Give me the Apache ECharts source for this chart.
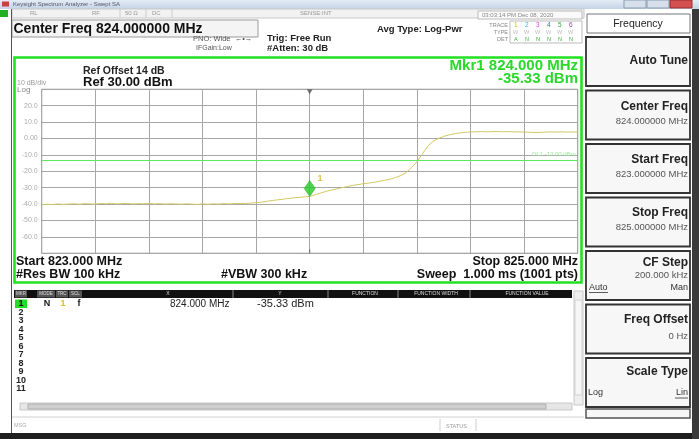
<!DOCTYPE html>
<html><head><meta charset="utf-8">
<script src="https://cdn.jsdelivr.net/npm/echarts@6/dist/echarts.min.js"></script>
<style>html,body{margin:0;padding:0;background:#fff}#c{width:699px;height:439px}</style>
</head><body><div id="c"></div>
<script>
// ---- data ----
const startFreq = 823.0;
const stopFreq = 825.0;
const stepFreq = 0.02;
const traceDbm = [
 -40.4,-40.1,-40.3,-39.9,-40.2,-40.0,-39.8,-40.1,-39.7,-39.9,
 -40.0,-39.6,-39.8,-39.5,-39.9,-39.7,-39.6,-39.9,-39.7,-39.8,
 -39.6,-39.9,-39.7,-40.0,-39.8,-39.9,-40.1,-39.8,-40.0,-40.2,
 -39.9,-40.1,-39.8,-40.0,-39.7,-39.9,-39.6,-39.7,-39.6,-39.4,
 -39.2,-38.8,-38.3,-37.8,-37.4,-37.0,-36.6,-36.2,-35.9,-35.6,
 -35.33,-34.4,-33.3,-32.3,-31.5,-30.8,-30.0,-29.3,-28.6,-28.1,
 -27.6,-27.2,-26.7,-26.1,-25.5,-24.8,-23.8,-22.6,-20.8,-17.8,
 -14.2,-9.5,-4.8,-1.8,0.0,1.3,2.2,2.9,3.4,3.8,
 4.0,4.1,4.2,4.1,4.2,4.3,4.1,4.2,4.0,4.1,
 3.9,3.8,3.6,3.7,3.9,4.0,3.9,4.1,3.9,4.0,3.9
];
const yTicks = [30,20,10,0,-10,-20,-30,-40,-50,-60,-70];
const yTickLabels = ['','20.0','10.0','0.00','-10.0','-20.0','-30.0','-40.0','-50.0','-60.0',''];
const markerFreq = [824.0];
const markerDbm = [-35.33];
const displayLineDbm = -13;

// ---- helpers ----
const FF = '"Liberation Sans", Arial, sans-serif';
function T(text,x,y,o){o=o||{};return {type:'text',z:o.z||20,silent:true,style:{text:text,x:x,y:y,font:(o.w||'normal')+' '+(o.s||8)+'px '+FF,fill:o.c||'#111',align:o.a||'left',verticalAlign:'middle',opacity:o.op==null?1:o.op}};}
function R(x,y,w,h,fill,stroke,lw,z){return {type:'rect',z:z||5,silent:true,shape:{x:x,y:y,width:w,height:h},style:{fill:fill||'none',stroke:stroke||null,lineWidth:lw||1}};}
function L(x1,y1,x2,y2,c,lw,z){return {type:'line',z:z||6,silent:true,shape:{x1:x1,y1:y1,x2:x2,y2:y2},style:{stroke:c,lineWidth:lw||1}};}

const G = [];
// title bar
G.push({type:'rect',z:3,silent:true,shape:{x:0,y:0,width:699,height:9},style:{fill:new echarts.graphic.LinearGradient(0,0,0,1,[{offset:0,color:'#e4ecf6'},{offset:1,color:'#c3d3e6'}])}});
G.push(R(2,1.5,7,5,'#c84040'));
G.push(T('Keysight Spectrum Analyzer - Swept SA',13,4.5,{s:6,c:'#556'}));
G.push(R(624,0,22,8,'#d6e0ec','#8a9bb0'));
G.push(R(647,0,22,8,'#d6e0ec','#8a9bb0'));
G.push(R(670,0,22,8,'#d25050','#9a3030'));
// status row
G.push(R(12,9,572,9,'#f2f2f2','#c8c8c8'));
G.push(R(0,10,8,7,'#20b020'));
G.push(T('RL',30,13.5,{s:6,c:'#999'}));
G.push(T('RF',92,13.5,{s:6,c:'#999'}));
G.push(T('50 Ω',125,13.5,{s:6,c:'#999'}));
G.push(T('DC',152,13.5,{s:6,c:'#999'}));
G.push(L(120,9,120,18,'#ccc'));G.push(L(146,9,146,18,'#ccc'));G.push(L(172,9,172,18,'#ccc'));
G.push(T('SENSE:INT',300,13.5,{s:6,c:'#999'}));
G.push(R(478,11,104,8,'#fafafa','#bbb'));
G.push(T('03:03:14 PM Dec 08, 2020',482,15,{s:6,c:'#888'}));
// header area
G.push(R(12,20,246,17,'#f4f4f4','#9a9a9a',1));
G.push(T('Center Freq 824.000000 MHz',13.5,29,{s:14,w:'bold',c:'#111'}));
G.push(T('PNO: Wide  \u2190\u2022\u2192',193,39,{s:7.5,c:'#555'}));
G.push(T('IFGain:Low',196,48,{s:7,c:'#555'}));
G.push(T('Trig: Free Run',267,38.5,{s:9.5,w:'bold',c:'#222'}));
G.push(T('#Atten: 30 dB',267,48,{s:9.5,w:'bold',c:'#222'}));
G.push(T('Avg Type: Log-Pwr',377,29,{s:9.5,w:'bold',c:'#222'}));
G.push(T('TRACE',508,25,{s:5.5,c:'#888',a:'right'}));
G.push(T('TYPE',508,32,{s:5.5,c:'#888',a:'right'}));
G.push(T('DET',508,39,{s:5.5,c:'#888',a:'right'}));
G.push(R(510,21,72,22,'#fff','#bbb'));
const trCols=['#c8b820','#20c8c8','#e040e0','#4060ff','#30b030','#9040c0'];
for(let i=0;i<6;i++){G.push(T(String(i+1),514+i*11,25,{s:6.5,c:trCols[i]}));G.push(T('W',513+i*11,32,{s:5.5,c:'#bbb'}));G.push(T(i==0?'A':'N',514+i*11,39,{s:5.5,c:'#40b040'}));}
// green main panel frame
G.push(R(14.5,57.5,567,225,'none','#22e022',2.6,30));
G.push(T('Ref Offset 14 dB',83,71,{s:10.5,w:'bold',c:'#222'}));
G.push(T('Ref 30.00 dBm',83,82.5,{s:13,w:'bold',c:'#111'}));
G.push(T('10 dB/div',17,83,{s:7,c:'#999'}));
G.push(T('Log',17,89.5,{s:8,c:'#888'}));
G.push(T('Mkr1 824.000 MHz',578,66,{s:15,w:'bold',c:'#2ad82a',a:'right'}));
G.push(T('-35.33 dBm',578,78.5,{s:15,w:'bold',c:'#2ad82a',a:'right'}));
G.push(T('Start 823.000 MHz',16,262,{s:12.5,w:'bold',c:'#111'}));
G.push(T('#Res BW 100 kHz',16,274.5,{s:12.5,w:'bold',c:'#111'}));
G.push(T('#VBW 300 kHz',221,274.5,{s:12.5,w:'bold',c:'#111'}));
G.push(T('Stop 825.000 MHz',578,262,{s:12.5,w:'bold',c:'#111',a:'right'}));
G.push(T('Sweep  1.000 ms (1001 pts)',578,274.5,{s:12.5,w:'bold',c:'#111',a:'right'}));
// marker table
G.push(R(14,290,558,8,'#111'));
G.push(R(15,290.5,12,7,'#555'));G.push(R(37,290.5,18,7,'#555'));G.push(R(56,290.5,12,7,'#555'));G.push(R(69,290.5,13,7,'#555'));
G.push(T('MKR',21,294,{s:4.5,c:'#ddd',a:'center'}));
G.push(T('MODE',46,294,{s:4.5,c:'#ddd',a:'center'}));
G.push(T('TRC',62,294,{s:4.5,c:'#ddd',a:'center'}));
G.push(T('SCL',75.5,294,{s:4.5,c:'#ddd',a:'center'}));
[233,328,398,470].forEach(x=>G.push(L(x,290,x,298,'#888',1,7)));
G.push(T('X',168,294,{s:5,c:'#ddd',a:'center'}));
G.push(T('Y',280,294,{s:5,c:'#ddd',a:'center'}));
G.push(T('FUNCTION',365,294,{s:5,c:'#ddd',a:'center'}));
G.push(T('FUNCTION WIDTH',436,294,{s:5,c:'#ddd',a:'center'}));
G.push(T('FUNCTION VALUE',527,294,{s:5,c:'#ddd',a:'center'}));
G.push(R(15,299.5,12,8.5,'#22dd22'));
G.push(T('1',21,304,{s:9,w:'bold',c:'#111',a:'center'}));
G.push(T('N',47,304,{s:9,w:'bold',c:'#111',a:'center'}));
G.push(T('1',63,304,{s:9,w:'bold',c:'#d8c020',a:'center'}));
G.push(T('f',79,304,{s:9,w:'bold',c:'#111',a:'center'}));
G.push(T('824.000 MHz',170,304,{s:10,c:'#222'}));
G.push(T('-35.33 dBm',257,304,{s:11,c:'#222'}));
const rowY=[312.5,321,329.5,338,346.5,355,363.5,372,380.5,389];
rowY.forEach((y,i)=>G.push(T(String(i+2),21,y,{s:9,w:'bold',c:'#222',a:'center'})));
// scrollbars
G.push(R(20,403,552,7,'#e6e6e6','#c8c8c8'));
G.push(R(28,404,518,5,'#cfcfcf','#b0b0b0'));
G.push(R(574,291,9,114,'#eeeeee','#c8c8c8'));
G.push(R(575,300,7,95,'#f6f6f6','#d0d0d0'));
// status line
G.push(L(12,417,584,417,'#d0d0d0'));
G.push(T('MSG',14,425,{s:5.5,c:'#aaa'}));
G.push(L(440,419,440,431,'#ccc'));
G.push(T('STATUS',446,426,{s:5.5,c:'#999'}));
G.push(L(476,419,476,431,'#ccc'));
// frame
G.push(L(11.5,9,11.5,433,'#555',1));
G.push(R(0,433,699,6,'#1e1e1e',null,1,8));
G.push(R(692,9,7,430,'#3a3a3a',null,1,8));
// softkey panel
G.push(R(587,14,103,19,'#ffffff','#777',1));
G.push(T('Frequency',638,24.5,{s:10.5,c:'#222',a:'center'}));
const keyTops=[37,90.5,144,197.5,251,304.5,358];
keyTops.forEach(t=>G.push(R(586,t,104,49,'#f7f7f7','#333',1.8)));
G.push(R(586,409,104,9,'#f7f7f7','#555',1.5));
const KS=12, SS=9.5;
G.push(T('Auto Tune',688,60.5,{s:KS,w:'bold',c:'#222',a:'right'}));
G.push(T('Center Freq',688,106.5,{s:KS,w:'bold',c:'#222',a:'right'}));
G.push(T('824.000000 MHz',688,121.5,{s:SS,c:'#555',a:'right'}));
G.push(T('Start Freq',688,160,{s:KS,w:'bold',c:'#222',a:'right'}));
G.push(T('823.000000 MHz',688,174,{s:SS,c:'#555',a:'right'}));
G.push(T('Stop Freq',688,213,{s:KS,w:'bold',c:'#222',a:'right'}));
G.push(T('825.000000 MHz',688,227.5,{s:SS,c:'#555',a:'right'}));
G.push(T('CF Step',688,263,{s:KS,w:'bold',c:'#222',a:'right'}));
G.push(T('200.000 kHz',688,275,{s:SS,c:'#555',a:'right'}));
G.push(T('Auto',589,287.5,{s:9,c:'#333'}));
G.push(L(589,292.5,608,292.5,'#333',0.8));
G.push(T('Man',688,287.5,{s:9,c:'#333',a:'right'}));
G.push(T('Freq Offset',688,320,{s:KS,w:'bold',c:'#222',a:'right'}));
G.push(T('0 Hz',688,336.5,{s:SS,c:'#555',a:'right'}));
G.push(T('Scale Type',688,372,{s:KS,w:'bold',c:'#222',a:'right'}));
G.push(T('Log',588,393,{s:9,c:'#333'}));
G.push(T('Lin',688,393,{s:9,c:'#333',a:'right'}));
G.push(L(675,398,688,398,'#333',0.8));

const freqs = traceDbm.map((v,i)=>+(startFreq+i*stepFreq).toFixed(2));

const chart = echarts.init(document.getElementById('c'));
chart.setOption({
  animation:false,
  backgroundColor:'#ffffff',
  grid:{left:41.7,top:89.3,width:536,height:164,show:true,borderColor:'#808080',borderWidth:1,backgroundColor:'#ffffff'},
  xAxis:{type:'value',min:startFreq,max:stopFreq,interval:0.2,
    axisLine:{show:false},axisTick:{show:false},axisLabel:{show:false},
    splitLine:{show:true,lineStyle:{color:'#a6a6a6',width:1}}},
  yAxis:{type:'value',min:-70,max:30,interval:10,
    axisLine:{show:false},axisTick:{show:false},
    axisLabel:{show:true,margin:4,fontSize:7,color:'#aaaaaa',fontFamily:FF,
      formatter:v=>{const i=yTicks.indexOf(Math.round(v));return i<0?'':yTickLabels[i];}},
    splitLine:{show:true,lineStyle:{color:'#a6a6a6',width:1}}},
  graphic:G,
  series:[
    {type:'line',data:freqs.map((f,i)=>[f,traceDbm[i]]),symbol:'none',z:4,
     lineStyle:{color:'#d2c862',width:1},
     markLine:{silent:true,symbol:'none',data:[{yAxis:displayLineDbm}],
       lineStyle:{color:'#5ee85e',width:1,type:'solid'},
       label:{show:true,position:'insideEndTop',formatter:'DL1 -13.00 dBm',fontSize:6,color:'#9ee69e',fontFamily:FF,distance:2}}},
    {type:'scatter',data:markerFreq.map((f,i)=>[f,markerDbm[i]]),symbol:'diamond',symbolSize:[11,16],symbolOffset:[0,-8],z:6,
     itemStyle:{color:'#22cc22',borderColor:'#119911',borderWidth:0.5},
     label:{show:true,formatter:'1',position:'right',offset:[-3,-10],fontSize:9,fontWeight:'bold',color:'#d8b020',fontFamily:FF}},
    {type:'scatter',data:markerFreq.map(f=>[f,30]),symbol:'triangle',symbolRotate:180,symbolSize:[6,5],symbolOffset:[0,2.5],z:6,
     itemStyle:{color:'#555'}},
    {type:'scatter',data:markerFreq.map(f=>[f,-70]),symbol:'rect',symbolSize:[1,4],symbolOffset:[0,-2],z:6,
     itemStyle:{color:'#555'}}
  ]
});
</script></body></html>
